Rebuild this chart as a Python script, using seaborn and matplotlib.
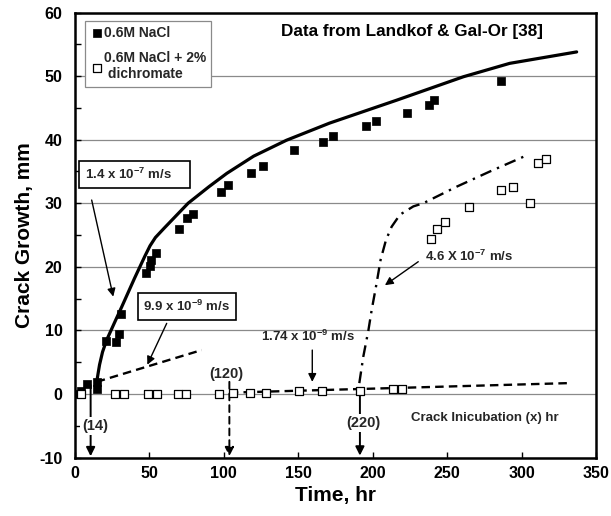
import numpy as np
import matplotlib
matplotlib.use('Agg')
import matplotlib.pyplot as plt
import seaborn as sns

# ---------------- data ----------------
nacl_t = [0, 3.8, 7.8, 14.6, 14.6, 20.8, 27.5, 29.3, 31.1, 47.7, 50.4, 50.8, 54.4,
          70.1, 75.0, 79.1, 97.9, 103.0, 118.4, 126.1, 147.3, 166.4, 173.1,
          195.5, 202.2, 223.0, 238.0, 241.2, 286.0]
nacl_v = [0, 0.5, 1.5, 0.8, 1.9, 8.4, 8.2, 9.4, 12.6, 19.1, 20.1, 21.1, 22.2,
          26.0, 27.6, 28.3, 31.8, 32.8, 34.8, 35.8, 38.3, 39.7, 40.5,
          42.2, 43.0, 44.2, 45.4, 46.2, 49.2]

dich_t = [4.0, 26.8, 33.2, 49.1, 55.1, 69.4, 74.6, 96.9, 106.3, 117.6, 128.3,
          150.7, 165.7, 191.4, 213.4, 219.5, 239.0, 243.0, 248.8, 264.7,
          286.2, 294.0, 305.7, 310.8, 316.2]
dich_v = [0, 0, 0, 0, 0, 0, 0, 0, 0.1, 0.1, 0.2,
          0.4, 0.5, 0.5, 0.7, 0.7, 24.3, 25.9, 27.1, 29.4,
          32.1, 32.6, 30.1, 36.3, 37.0]

fit_t = [14.6, 15.5, 16.5, 18.5, 21.3, 26.9, 31.4, 40, 47, 50.4, 54, 60, 76,
         90, 102, 120, 142, 171, 216, 261, 292, 337]
fit_v = [1.9, 3.2, 4.6, 6.6, 8.5, 11.4, 13.7, 18.2, 21.7, 23.3, 24.6, 26.1, 30.0,
         32.6, 34.7, 37.4, 39.9, 42.6, 46.2, 49.9, 52.0, 53.8]

dd_t = [191.0, 193.7, 197.1, 199.3, 202.6, 205.3, 208.9, 212.7, 218.3, 227.3,
        234.0, 256.4, 278.8, 301.2]
dd_v = [1.7, 5.9, 10.0, 13.2, 17.4, 21.1, 24.2, 26.3, 28.2, 29.5,
        30.0, 32.6, 35.0, 37.3]

early_t = [14.6, 85.1]
early_v = [1.9, 6.9]
late_t = [104.0, 331.4]
late_v = [0.2, 1.7]

incub_t = [10.5, 103.7, 191.4]          # vertical arrow positions
incub_lbl = ['(14)', '(120)', '(220)']

xticks = [0, 50, 100, 150, 200, 250, 300, 350]
yticks = [-10, 0, 10, 20, 30, 40, 50, 60]

# ---------------- style ----------------
sns.set_theme(style='white')
plt.rcParams['font.family'] = ['Liberation Sans', 'DejaVu Sans']
plt.rcParams['font.weight'] = 'bold'
plt.rcParams['axes.unicode_minus'] = False
plt.rcParams['mathtext.fontset'] = 'custom'
plt.rcParams['mathtext.rm'] = 'Liberation Sans:bold'
plt.rcParams['mathtext.bf'] = 'Liberation Sans:bold'
plt.rcParams['mathtext.it'] = 'Liberation Sans:bold'
plt.rcParams['mathtext.default'] = 'bf'

fig = plt.figure(figsize=(6.11, 5.16), dpi=100)
ax = fig.add_axes([75/611, 1 - 457.5/516, 521/611, 445/516])

# lines
sns.lineplot(x=fit_t, y=fit_v, sort=False, estimator=None, color='black', lw=2.3, ax=ax)
sns.lineplot(x=dd_t, y=dd_v, sort=False, estimator=None, color='black', lw=1.7,
             linestyle=(0, (5, 2.6, 1, 2.6)), ax=ax)
sns.lineplot(x=early_t, y=early_v, sort=False, estimator=None, color='black', lw=1.7,
             linestyle=(0, (3.6, 2.2)), ax=ax)
sns.lineplot(x=late_t, y=late_v, sort=False, estimator=None, color='black', lw=1.7,
             linestyle=(0, (3.6, 2.2)), ax=ax)

# points
sns.scatterplot(x=nacl_t, y=nacl_v, marker='s', s=30, color='black', edgecolor='black',
                linewidth=0.5, ax=ax, label='0.6M NaCl', zorder=4)
sns.scatterplot(x=dich_t, y=dich_v, marker='s', s=30, color='white', edgecolor='black',
                linewidth=0.9, ax=ax, label='0.6M NaCl + 2%\n dichromate', zorder=4)

# axes
ax.set_xlim(0, 350)
ax.set_ylim(-10, 60)
ax.set_xticks(xticks)
ax.set_yticks(yticks)
ax.set_yticks(np.arange(-5, 60, 10), minor=True)
ax.tick_params(axis='y', which='both', direction='in', length=4, width=1, left=True,
               labelsize=11.5, pad=9, colors='black')
ax.tick_params(axis='x', which='both', direction='in', length=4, width=1, bottom=True,
               labelsize=11.5, pad=6, colors='black')
for lab in ax.get_xticklabels() + ax.get_yticklabels():
    lab.set_fontweight('bold')
ax.yaxis.grid(True, color='#8a8a8a', lw=0.9)
ax.set_axisbelow(True)
for sp in ax.spines.values():
    sp.set_color('black')
    sp.set_linewidth(1.8)

ax.set_xlabel('Time, hr', fontsize=15, fontweight='bold', color='black', labelpad=4)
ax.set_ylabel('Crack Growth, mm', fontsize=15, fontweight='bold', color='black', labelpad=4)

# legend
leg = ax.legend(loc='upper left', bbox_to_anchor=(0.019, 0.982), frameon=True,
                fancybox=False, edgecolor='#8a8a8a', framealpha=1,
                prop={'size': 10, 'weight': 'bold'}, handletextpad=0.05,
                handlelength=0.9, borderaxespad=0, borderpad=0.4, labelspacing=0.8)
leg.get_frame().set_linewidth(0.9)

# text annotations
ax.text(314.7, 57.0, 'Data from Landkof & Gal-Or [38]', ha='right', va='center',
        fontsize=12.3, fontweight='bold', color='black')

box = dict(boxstyle='square,pad=0.45', fc='white', ec='black', lw=1.2)
ax.text(7.0, 34.5, '1.4 x 10$^{-7}$ m/s    ', ha='left', va='center', fontsize=9.5,
        fontweight='bold', bbox=box, zorder=5)
ax.text(46.0, 13.8, '9.9 x 10$^{-9}$ m/s', ha='left', va='center', fontsize=9.5,
        fontweight='bold', bbox=box, zorder=5)
ax.text(156.7, 9.0, '1.74 x 10$^{-9}$ m/s', ha='center', va='center', fontsize=9.5,
        fontweight='bold')
ax.text(235.0, 21.6, '4.6 X 10$^{-7}$ m/s', ha='left', va='center', fontsize=9.5,
        fontweight='bold', bbox=dict(boxstyle='square,pad=0.1', fc='white', ec='none'),
        zorder=5)
ax.text(275.0, -3.8, 'Crack Inicubation (x) hr', ha='center', va='center', fontsize=9.5,
        fontweight='bold')

thin = dict(arrowstyle='-|>', color='black', lw=1.0, mutation_scale=12, shrinkA=0, shrinkB=0)
ax.annotate('', xy=(25.7, 15.3), xytext=(11.2, 30.5), arrowprops=thin)
ax.annotate('', xy=(48.6, 4.6), xytext=(61.6, 11.1), arrowprops=thin)
ax.annotate('', xy=(159.4, 1.9), xytext=(159.4, 6.9), arrowprops=thin)
ax.annotate('', xy=(208.2, 17.1), xytext=(230.6, 20.8), arrowprops=thin)

# incubation arrows
solid_v = dict(arrowstyle='-|>', color='black', lw=1.4, mutation_scale=13, shrinkA=0, shrinkB=0)
dash_v = dict(arrowstyle='-|>', color='black', lw=1.4, mutation_scale=13, shrinkA=0, shrinkB=0,
              linestyle=(0, (3.5, 2.5)))
ax.annotate('', xy=(incub_t[0], -9.8), xytext=(incub_t[0], 1.4), arrowprops=solid_v)
ax.annotate('', xy=(incub_t[1], -9.8), xytext=(incub_t[1], 1.9), arrowprops=dash_v)
ax.annotate('', xy=(incub_t[2], -9.7), xytext=(incub_t[2], 0.2), arrowprops=solid_v)
wbox = dict(boxstyle='square,pad=0.15', fc='white', ec='none')
ax.text(13.4, -5.0, incub_lbl[0], ha='center', va='center', fontsize=10.5, fontweight='bold',
        bbox=wbox, zorder=6)
ax.text(101.9, 3.1, incub_lbl[1], ha='center', va='center', fontsize=10.5, fontweight='bold',
        zorder=6)
ax.text(193.5, -4.6, incub_lbl[2], ha='center', va='center', fontsize=10.5, fontweight='bold',
        bbox=wbox, zorder=6)

fig.savefig('out.png', dpi=100)
